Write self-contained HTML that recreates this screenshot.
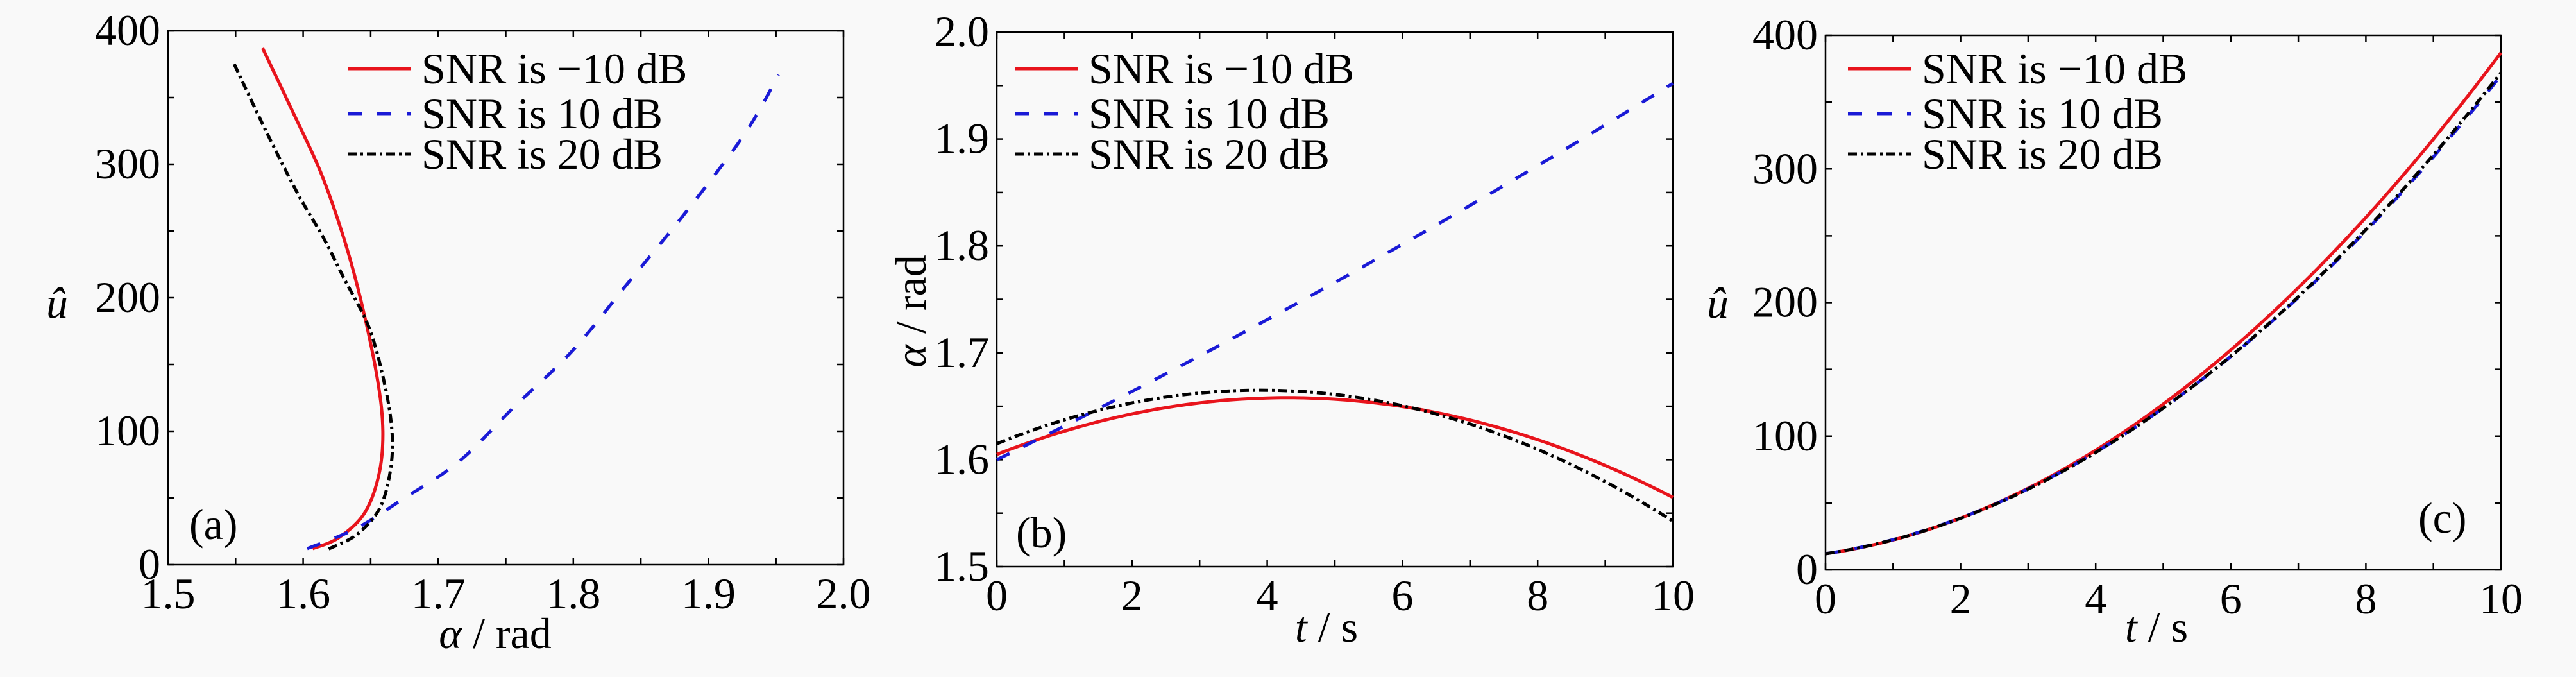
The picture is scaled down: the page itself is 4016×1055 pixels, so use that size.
<!DOCTYPE html>
<html><head><meta charset="utf-8"><style>
html,body{margin:0;padding:0;background:#f9f9f9;}
svg{display:block;}
</style></head><body>
<svg id="s" width="4016" height="1055" xmlns="http://www.w3.org/2000/svg" font-family="Liberation Serif, Times New Roman, serif"></svg>
<script>
const S=document.getElementById('s');let h='<rect width="4016" height="1055" fill="#f9f9f9"/>';
const FS=68, FF='font-family="Liberation Serif, serif"';
function smooth(P){ // catmull-rom to bezier
  let d='M'+P[0][0].toFixed(1)+','+P[0][1].toFixed(1);
  for(let i=0;i<P.length-1;i++){
    const p0=P[Math.max(0,i-1)],p1=P[i],p2=P[i+1],p3=P[Math.min(P.length-1,i+2)];
    const c1=[p1[0]+(p2[0]-p0[0])/6,p1[1]+(p2[1]-p0[1])/6],c2=[p2[0]-(p3[0]-p1[0])/6,p2[1]-(p3[1]-p1[1])/6];
    d+=`C${c1[0].toFixed(1)},${c1[1].toFixed(1)} ${c2[0].toFixed(1)},${c2[1].toFixed(1)} ${p2[0].toFixed(1)},${p2[1].toFixed(1)}`;
  }
  return d;
}
function panel(p){
  const {L,R,T,B,x0,x1,y0,y1}=p;
  const X=v=>L+(v-x0)/(x1-x0)*(R-L), Y=v=>B-(v-y0)/(y1-y0)*(B-T);
  h+=`<rect x="${L}" y="${T}" width="${R-L}" height="${B-T}" fill="none" stroke="#000" stroke-width="2.5"/>`;
  for(const v of p.xt){const x=X(v);h+=`<line x1="${x}" y1="${B}" x2="${x}" y2="${B-10}" stroke="#000" stroke-width="2.5"/><line x1="${x}" y1="${T}" x2="${x}" y2="${T+10}" stroke="#000" stroke-width="2.5"/>`;}
  for(const v of p.yt){const y=Y(v);h+=`<line x1="${L}" y1="${y}" x2="${L+10}" y2="${y}" stroke="#000" stroke-width="2.5"/><line x1="${R}" y1="${y}" x2="${R-10}" y2="${y}" stroke="#000" stroke-width="2.5"/>`;}
  for(const [v,s] of p.xl){h+=`<text ${FF} x="${X(v)}" y="${B+68}" font-size="${FS}" text-anchor="middle">${s}</text>`;}
  for(const [v,s] of p.yl){h+=`<text ${FF} x="${L-12}" y="${Y(v)+22}" font-size="${FS}" text-anchor="end">${s}</text>`;}
  const st={r:'stroke="#e8141c" stroke-width="5"',b:'stroke="#1a1ad6" stroke-width="5" stroke-dasharray="22,24"',k:'stroke="#000" stroke-width="5" stroke-dasharray="14,6,4,6"'};
  for(const s of p.series){
    const P=s.pts.map(q=>[X(q[0]),Y(q[1])]);
    h+=`<path d="${smooth(P)}" fill="none" ${st[s.c]} stroke-linejoin="round"/>`;
  }
  const lx=p.lx, ys=[107,177,240], labs=['SNR is \u221210 dB','SNR is 10 dB','SNR is 20 dB'], cs=['r','b','k'];
  for(let i=0;i<3;i++){
    h+=`<line x1="${lx}" y1="${ys[i]}" x2="${lx+99}" y2="${ys[i]}" ${st[cs[i]]} stroke-width="7"/>`;
    h+=`<text ${FF} x="${lx+115}" y="${ys[i]+23}" font-size="68">${labs[i]}</text>`;
  }
}
function gen(f,a,b,n){const r=[];for(let i=0;i<=n;i++){const t=a+(b-a)*i/n;r.push(f(t));}return r;}
function rng(a,b,s){const r=[];for(let v=a;v<=b+1e-9;v+=s)r.push(+v.toFixed(4));return r;}
panel({L:262,R:1315,T:48,B:880,x0:1.5,x1:2.0,y0:0,y1:400,
 xt:rng(1.5,2.0,0.05),yt:rng(0,400,50),
 xl:[[1.5,'1.5'],[1.6,'1.6'],[1.7,'1.7'],[1.8,'1.8'],[1.9,'1.9'],[2.0,'2.0']],
 yl:[[0,'0'],[100,'100'],[200,'200'],[300,'300'],[400,'400']],lx:542,
 series:[
 {c:'r',pts:[[1.570,387],[1.592,340],[1.613,294],[1.630,245],[1.643,197],[1.655,139],[1.659,100],[1.656,67],[1.645,38],[1.626,20],[1.607,12]]},
 {c:'b',pts:[[1.603,12],[1.639,27],[1.672,48],[1.715,77],[1.757,119],[1.800,161],[1.842,213],[1.884,265],[1.927,323],[1.952,367]]},
 {c:'k',pts:[[1.549,375],[1.572,326],[1.596,278],[1.615,245],[1.630,215],[1.649,177],[1.661,132],[1.666,96],[1.664,67],[1.656,41],[1.639,22],[1.617,11]]}]});
panel({L:1554,R:2608,T:50,B:883,x0:0,x1:10,y0:1.5,y1:2.0,
 xt:rng(0,10,1),yt:rng(1.5,2.0,0.05),
 xl:[[0,'0'],[2,'2'],[4,'4'],[6,'6'],[8,'8'],[10,'10']],
 yl:[[1.5,'1.5'],[1.6,'1.6'],[1.7,'1.7'],[1.8,'1.8'],[1.9,'1.9'],[2.0,'2.0']],lx:1582,
 series:[
 {c:'r',pts:gen(t=>[t,1.658-0.00287*(t-4.3)**2],0,10,50)},
 {c:'b',pts:gen(t=>[t,1.6+0.03112*t+0.000408*t*t],0,10,50)},
 {c:'k',pts:gen(t=>[t,1.665-0.00329*(t-3.9)**2],0,10,50)}]});
panel({L:2846,R:3899,T:55,B:888,x0:0,x1:10,y0:0,y1:400,
 xt:rng(0,10,1),yt:rng(0,400,50),
 xl:[[0,'0'],[2,'2'],[4,'4'],[6,'6'],[8,'8'],[10,'10']],
 yl:[[0,'0'],[100,'100'],[200,'200'],[300,'300'],[400,'400']],lx:2881,
 series:[
 {c:'r',pts:gen(t=>[t,12+7.3*t+3.02*t*t],0,10,50)},
 {c:'b',pts:gen(t=>[t,12+7.8*t+2.8*t*t],0,10,50)},
 {c:'k',pts:gen(t=>[t,12+7.6*t+2.84*t*t],0,10,50)}]});
h+=`<text ${FF} x="772" y="1010" font-size="68" text-anchor="middle"><tspan font-style="italic">α</tspan> / rad</text>`;
h+=`<text ${FF} x="2068" y="1000" font-size="68" text-anchor="middle"><tspan font-style="italic">t</tspan> / s</text>`;
h+=`<text ${FF} x="3362" y="1000" font-size="68" text-anchor="middle"><tspan font-style="italic">t</tspan> / s</text>`;
h+=`<text ${FF} x="89" y="495" font-size="68" text-anchor="middle" font-style="italic">û</text>`;
h+=`<text ${FF} x="2678" y="495" font-size="68" text-anchor="middle" font-style="italic">û</text>`;
h+=`<text ${FF} transform="translate(1443,485) rotate(-90)" font-size="68" text-anchor="middle"><tspan font-style="italic">α</tspan> / rad</text>`;
h+=`<text ${FF} x="295" y="840" font-size="68">(a)</text>`;
h+=`<text ${FF} x="1584" y="853" font-size="68">(b)</text>`;
h+=`<text ${FF} x="3770" y="830" font-size="68">(c)</text>`;
S.innerHTML=h;
</script>
</body></html>
